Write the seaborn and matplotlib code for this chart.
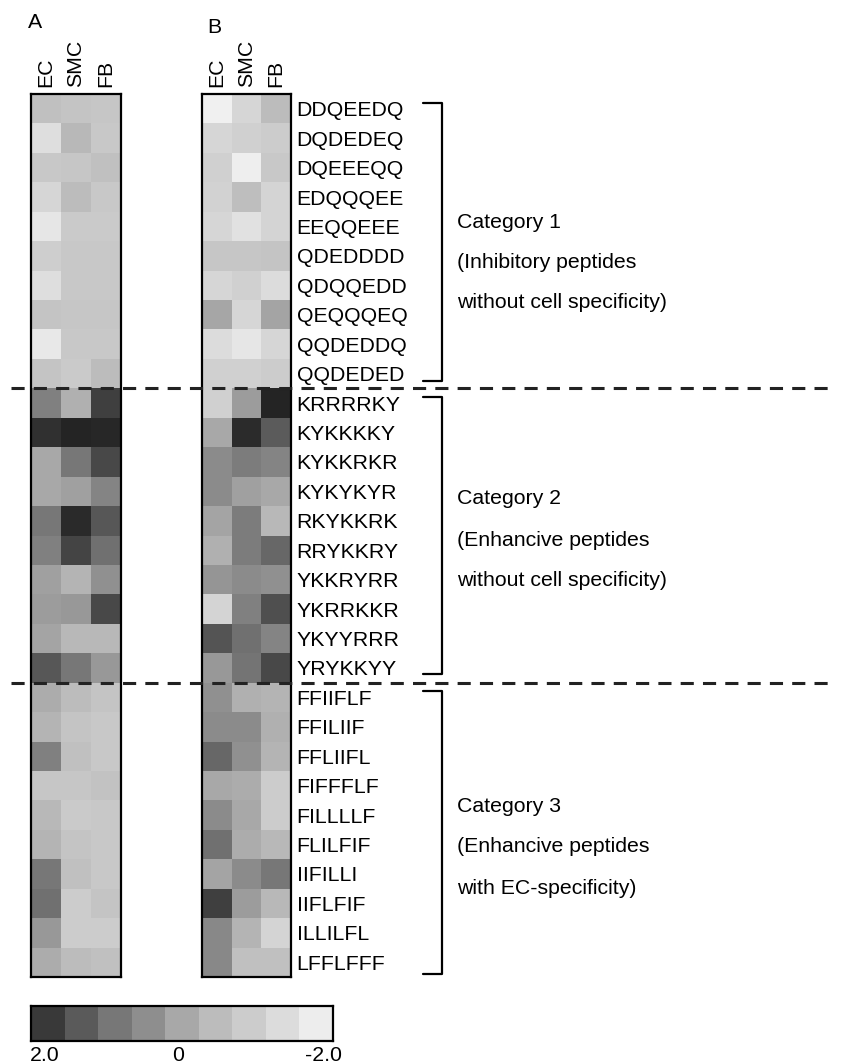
import numpy as np
import pandas as pd
import matplotlib
matplotlib.use("Agg")
import matplotlib.pyplot as plt
import seaborn as sns
from matplotlib.colors import LinearSegmentedColormap
from matplotlib.lines import Line2D
from matplotlib.transforms import blended_transform_factory

# ---------------- data ----------------
cells = ["EC", "SMC", "FB"]
peptides = [
    "DDQEEDQ", "DQDEDEQ", "DQEEEQQ", "EDQQQEE", "EEQQEEE",
    "QDEDDDD", "QDQQEDD", "QEQQQEQ", "QQDEDDQ", "QQDEDED",
    "KRRRRKY", "KYKKKKY", "KYKKRKR", "KYKYKYR", "RKYKKRK",
    "RRYKKRY", "YKKRYRR", "YKRRKKR", "YKYYRRR", "YRYKKYY",
    "FFIIFLF", "FFILIIF", "FFLIIFL", "FIFFFLF", "FILLLLF",
    "FLILFIF", "IIFILLI", "IIFLFIF", "ILLILFL", "LFFLFFF",
]
panelA_EC = [-0.63, -1.56, -0.88, -1.31, -1.81, -1.06, -1.56, -0.75, -1.88, -0.75,
             0.82, 2.16, 0.00, 0.00, 1.00, 0.82, 0.15, 0.23, 0.08, 1.53,
             -0.10, -0.30, 0.82, -0.81, -0.40, -0.30, 1.00, 1.13, 0.31, -0.10]
panelA_SMC = [-0.75, -0.40, -0.81, -0.50, -0.94, -0.88, -0.88, -0.81, -0.88, -0.94,
              -0.20, 2.34, 1.00, 0.15, 2.25, 1.84, -0.30, 0.31, -0.40, 1.00,
              -0.50, -0.75, -0.63, -0.81, -0.94, -0.75, -0.63, -1.00, -1.00, -0.50]
panelA_FB = [-0.81, -0.88, -0.63, -0.88, -0.94, -0.88, -0.88, -0.81, -0.88, -0.50,
             1.91, 2.28, 1.78, 0.73, 1.53, 1.13, 0.46, 1.78, -0.40, 0.31,
             -0.75, -0.88, -0.88, -0.69, -0.88, -0.88, -0.88, -0.75, -1.00, -0.63]
panelB_EC = [-2.13, -1.31, -1.13, -1.19, -1.31, -0.81, -1.31, 0.04, -1.50, -1.13,
             -1.13, 0.00, 0.55, 0.55, 0.08, -0.20, 0.38, -1.25, 1.59, 0.31,
             0.46, 0.55, 1.27, 0.00, 0.55, 1.13, 0.08, 1.91, 0.64, 0.64]
panelB_SMC = [-1.31, -1.13, -2.06, -0.56, -1.63, -0.81, -1.13, -1.31, -1.81, -1.13,
              0.23, 2.22, 0.91, 0.15, 0.91, 0.91, 0.55, 0.82, 1.13, 1.07,
              -0.20, 0.55, 0.46, -0.10, 0.00, -0.10, 0.55, 0.23, -0.30, -0.63]
panelB_FB = [-0.50, -1.00, -0.88, -1.25, -1.25, -0.75, -1.50, 0.08, -1.31, -1.00,
             2.34, 1.47, 0.73, 0.00, -0.40, 1.27, 0.46, 1.66, 0.73, 1.78,
             -0.30, -0.20, -0.30, -1.00, -1.00, -0.40, 1.00, -0.40, -1.25, -0.63]
scale_values = [2.0, 1.5, 1.0, 0.5, 0.0, -0.5, -1.0, -1.5, -2.0]
scale_labels = ["2.0", "0", "-2.0"]
categories = [
    ["Category 1", "(Inhibitory peptides", "without cell specificity)"],
    ["Category 2", "(Enhancive peptides", "without cell specificity)"],
    ["Category 3", "(Enhancive peptides", "with EC-specificity)"],
]

dfA = pd.DataFrame({"EC": panelA_EC, "SMC": panelA_SMC, "FB": panelA_FB}, index=peptides)[cells]
dfB = pd.DataFrame({"EC": panelB_EC, "SMC": panelB_SMC, "FB": panelB_FB}, index=peptides)[cells]

# ---------------- style ----------------
sns.set_theme(style="white")
plt.rcParams["font.family"] = ["Liberation Sans", "DejaVu Sans"]
plt.rcParams["text.color"] = "black"
plt.rcParams["xtick.color"] = "black"
plt.rcParams["ytick.color"] = "black"
plt.rcParams["xtick.labelcolor"] = "black"
plt.rcParams["ytick.labelcolor"] = "black"

vmin, vmax = -2.3, 2.5
nodes_v = [-2.3, -2.0, -1.5, -1.0, -0.5, 0.0, 0.5, 1.0, 1.5, 2.0, 2.5]
nodes_g = [246, 236, 220, 204, 188, 168, 142, 120, 90, 58, 26]
cmap = LinearSegmentedColormap.from_list(
    "greys_ref",
    [((v - vmin) / (vmax - vmin), (g / 255, g / 255, g / 255)) for v, g in zip(nodes_v, nodes_g)],
)

W, H = 842, 1064
fig = plt.figure(figsize=(W / 100, H / 100), dpi=100)


def fx(px):
    return px / W


def fy(py):
    return 1 - py / H


FS = 15.3

top, bottom = 94, 977
axA = fig.add_axes([fx(31), fy(bottom), fx(121) - fx(31), fy(top) - fy(bottom)])
axB = fig.add_axes([fx(202), fy(bottom), fx(291) - fx(202), fy(top) - fy(bottom)])

for ax, df in [(axA, dfA), (axB, dfB)]:
    sns.heatmap(df, ax=ax, cmap=cmap, vmin=vmin, vmax=vmax, cbar=False,
                xticklabels=True, yticklabels=(ax is axB))
    ax.xaxis.tick_top()
    ax.set_xticklabels(cells, rotation=90, fontsize=FS, color="black")
    ax.tick_params(axis="x", length=0, pad=5)
    ax.set_xlabel("")
    ax.set_ylabel("")
    for s in ax.spines.values():
        s.set_visible(True)
        s.set_linewidth(1.6)
        s.set_color("black")

axA.set_yticks([])
axB.yaxis.tick_right()
axB.set_yticklabels(peptides, rotation=0, fontsize=FS, color="black")
axB.tick_params(axis="y", length=0, pad=4)

fig.text(fx(28), fy(28), "A", fontsize=FS, ha="left", va="baseline", color="black")
fig.text(fx(207), fy(33), "B", fontsize=FS, ha="left", va="baseline", color="black")

# dashed separators and brackets tied to row positions of panel B
trans = blended_transform_factory(fig.transFigure, axB.transData)
for yb in [10, 20]:
    fig.add_artist(Line2D([fx(11), fx(836)], [yb, yb], transform=trans,
                          color="#222222", lw=2.2, linestyle=(0, (4.3, 3.0))))

bracket_rows = [(0.3, 9.75), (10.3, 19.72), (20.27, 29.9)]
for (y0, y1) in bracket_rows:
    fig.add_artist(Line2D([fx(423), fx(442), fx(442), fx(423)], [y0, y0, y1, y1],
                          transform=trans, color="black", lw=1.6))

cat_text_y = [[222, 262, 303], [498, 540, 580], [807, 847, 888]]
for lines, ys in zip(categories, cat_text_y):
    for t, y in zip(lines, ys):
        fig.text(fx(457), fy(y), t, fontsize=FS, ha="left", va="center", color="black")

# scale bar
axC = fig.add_axes([fx(31), fy(1041), fx(333) - fx(31), fy(1006) - fy(1041)])
sns.heatmap(np.array([scale_values]), ax=axC, cmap=cmap, vmin=vmin, vmax=vmax,
            cbar=False, xticklabels=False, yticklabels=False)
for s in axC.spines.values():
    s.set_visible(True)
    s.set_linewidth(1.6)
    s.set_color("black")
fig.text(fx(30), fy(1061), scale_labels[0], fontsize=FS, ha="left", va="baseline", color="black")
fig.text(fx(178), fy(1061), scale_labels[1], fontsize=FS, ha="center", va="baseline", color="black")
fig.text(fx(342), fy(1061), scale_labels[2], fontsize=FS, ha="right", va="baseline", color="black")

fig.savefig("out.png", dpi=100, facecolor="white")
